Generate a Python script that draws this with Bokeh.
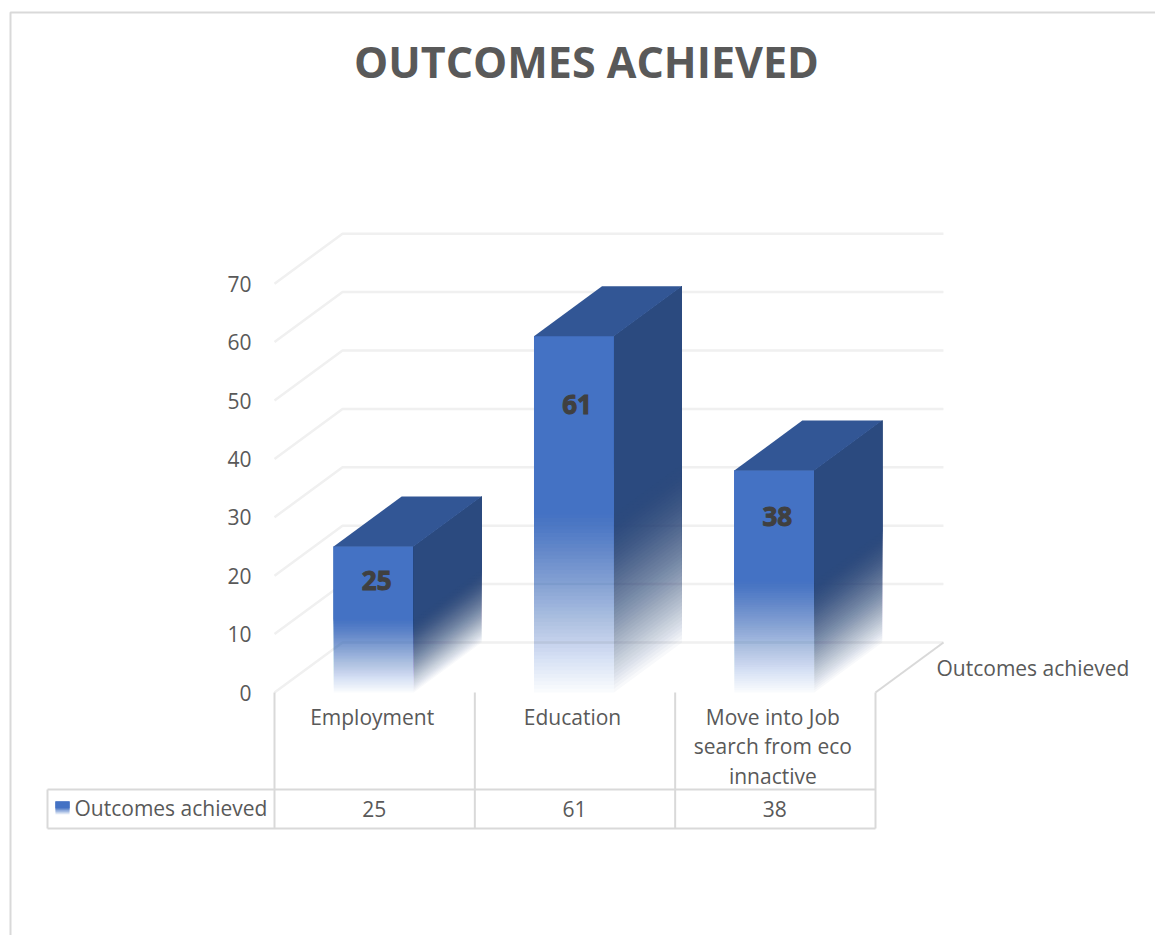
from bokeh.plotting import figure
from bokeh.models import Range1d, LinearAxis, FixedTicker
from bokeh.core.properties import value
from bokeh.embed import file_html
from bokeh.resources import INLINE

title_text = "OUTCOMES ACHIEVED"
series_name = "Outcomes achieved"
categories = ["Employment", "Education", "Move into Job\nsearch from eco\ninnactive"]
values = [25, 61, 38]
y_ticks = [0, 10, 20, 30, 40, 50, 60, 70]

FONT = value("Open Sans")
TXT = "#595959"
FRONT, SIDE, TOP = "#4472C4", "#2B4A7F", "#325695"
GRID, RULE = "#F0F0F0", "#D9D9D9"

# page-pixel layout of the projected chart
X0, Y0, CAT_W, UNIT = 274.0, 692.0, 200.33, 5.84
DX, DY = 68.0 / CAT_W, 50.0 / UNIT
BAR_W = 80.0 / CAT_W
W, H = 1155, 935


def X(px):
    return (px - X0) / CAT_W


def Y(py):
    return (Y0 - py) / UNIT


p = figure(width=W, height=H, output_backend="svg", toolbar_location=None,
           x_range=Range1d(X(0), X(W)), y_range=Range1d(Y(H), Y(0)),
           x_axis_location=None, y_axis_location=None, min_border=0,
           outline_line_color=None, background_fill_color="white", border_fill_color="white")
p.grid.visible = False

yaxis = LinearAxis(fixed_location=0, ticker=FixedTicker(ticks=y_ticks))
yaxis.axis_line_color = None
yaxis.major_tick_line_color = None
yaxis.minor_tick_line_color = None
yaxis.major_label_standoff = 17
yaxis.major_label_text_font = "Open Sans"
yaxis.major_label_text_font_size = "21px"
yaxis.major_label_text_color = TXT
p.add_layout(yaxis, "left")

# chart frame
p.line([X(W), X(10), X(10)], [Y(12), Y(12), Y(H)], line_color=RULE, line_width=2)

# walls
n = len(categories)
for t in y_ticks:
    p.line([0, DX, n + DX], [t, t + DY, t + DY], line_color=GRID, line_width=2.5)
p.line([n, n + DX], [0, DY], line_color=RULE, line_width=2)


def faded(xs_of, ys_of, top, color, levels=48, floor=0.03, power=1.0):
    """Nested translucent layers that add up to a fade from bottom to solid at top/2."""
    stop = top / 2.0
    prev = 0.0
    for k in range(levels + 1):
        level = stop * k / levels
        t = k / levels
        target = floor + (1 - floor) * (1 - (1 - t) ** power)
        alpha = 1 - (1 - target) / (1 - prev) if prev < 1 else 1
        prev = target
        p.patch(xs_of(), ys_of(level), fill_color=color, fill_alpha=min(alpha, 1), line_color=None)


for i, v in enumerate(values):
    left = i + 0.5 - BAR_W / 2 - 0.005
    right = left + BAR_W
    # front face
    faded(lambda: [left, right, right, left],
          lambda b: [b, b, v, v], v, FRONT)
    # side face
    faded(lambda: [right, right + DX, right + DX, right],
          lambda b: [b, b + DY, v + DY, v], v, SIDE, power=1.5)
    # top face
    p.patch([left, right, right + DX, left + DX], [v, v, v + DY, v + DY],
            fill_color=TOP, line_color=None)
    # data label
    p.text([right - BAR_W / 2 + 3 / CAT_W], [0.836 * v - 1.7], text=[str(v)],
           text_font=FONT, text_font_style="bold", text_font_size="26px", text_color="#404040",
           text_align="center", text_baseline="middle",
           text_outline_color="#404040")

# data table rules
bounds = [i for i in range(n + 1)]
for b in bounds:
    p.line([b, b], [0, Y(828)], line_color=RULE, line_width=2)
p.line([X(47), n], [Y(789), Y(789)], line_color=RULE, line_width=2)
p.line([X(47), n], [Y(828), Y(828)], line_color=RULE, line_width=2)
p.line([X(47), X(47)], [Y(789), Y(828)], line_color=RULE, line_width=2)

# category labels and table values
for i, (c, v) in enumerate(zip(categories, values)):
    lines = c.split("\n")
    p.text([i + 0.5 - 2.5 / CAT_W] * len(lines), [Y(716.5 + 29.3 * j) for j in range(len(lines))], text=lines,
           text_font=FONT, text_font_size="21px", text_color=TXT,
           text_align="center", text_baseline="middle")
    p.text([i + 0.5 - 0.5 / CAT_W], [Y(808)], text=[str(v)], text_font=FONT, text_font_size="21px",
           text_color=TXT, text_align="center", text_baseline="middle")

# legend key inside the table
faded(lambda: [X(55), X(69), X(69), X(55)],
      lambda b: [Y(814) + b, Y(814) + b, Y(801), Y(801)], Y(801) - Y(814), FRONT, levels=10, floor=0.1)
p.text([X(74)], [Y(807)], text=[series_name], text_font=FONT, text_font_size="21px",
       text_color=TXT, text_align="left", text_baseline="middle")

# depth-axis series label
p.text([X(936)], [Y(667.5)], text=[series_name], text_font=FONT, text_font_size="21px",
       text_color=TXT, text_align="left", text_baseline="middle")

# title
p.text([X(586)], [Y(61)], text=[title_text], text_font=FONT, text_font_style="bold",
       text_font_size="43px", text_color=TXT, text_align="center", text_baseline="middle")

open("out.html", "w").write(file_html(p, INLINE))
